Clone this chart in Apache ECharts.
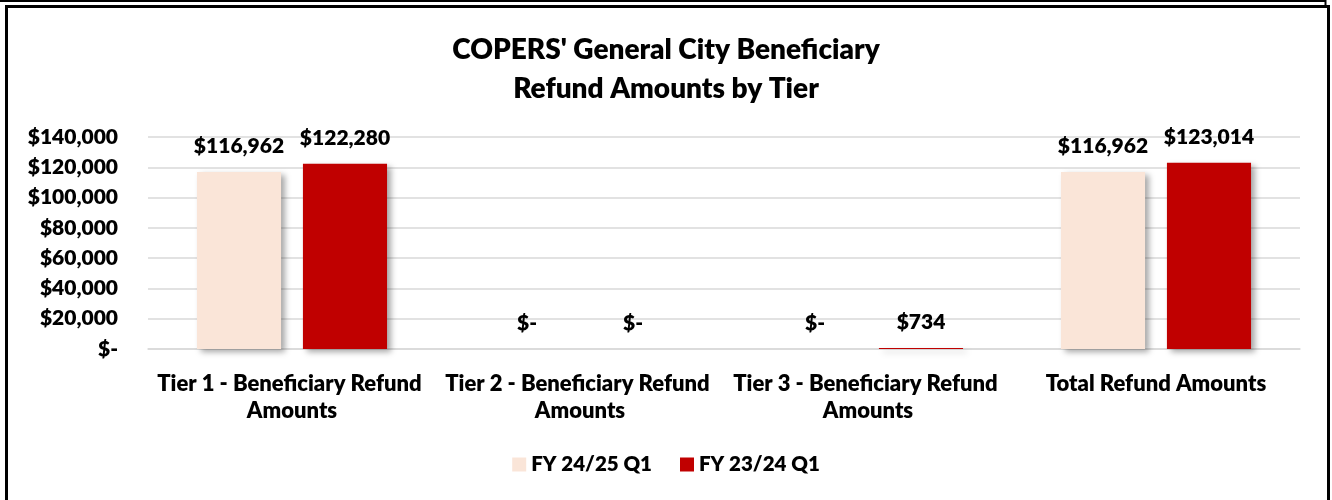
<!DOCTYPE html>
<html>
<head>
<meta charset="utf-8">
<script src="https://cdn.jsdelivr.net/npm/echarts@6/dist/echarts.min.js"></script>
<style>
html,body{margin:0;padding:0;background:#fff;}
#chart{width:1332px;height:500px;}
</style>
</head>
<body>
<div id="chart"></div>
<script>
const categories = [
  "Tier 1 - Beneficiary Refund Amounts",
  "Tier 2 - Beneficiary Refund Amounts",
  "Tier 3 - Beneficiary Refund Amounts",
  "Total Refund Amounts"
];
const seriesNames = ["FY 24/25 Q1", "FY 23/24 Q1"];
const fy2425 = [116962, 0, 0, 116962];
const fy2324 = [122280, 0, 734, 123014];
const yTicks = [0, 20000, 40000, 60000, 80000, 100000, 120000, 140000];

const FONT = 'Lato';
const W = 800;
const money = v => v === 0 ? '$-' : '$' + Number(v).toLocaleString('en-US');

const chart = echarts.init(document.getElementById('chart'), null, {renderer: 'canvas'});
const labelCfg = {
  show: true, position: 'top', distance: 15,
  fontFamily: FONT, fontWeight: W, fontSize: 21, color: '#000',
  formatter: p => money(p.value)
};
const shadow = {shadowBlur: 6, shadowOffsetX: 4, shadowOffsetY: 3, shadowColor: 'rgba(0,0,0,0.35)'};
chart.setOption({
  animation: false,
  backgroundColor: '#fff',
  title: {
    text: "COPERS' General City Beneficiary\nRefund Amounts by Tier",
    left: 'center', top: 25,
    textStyle: {fontFamily: FONT, fontWeight: W, fontSize: 28, lineHeight: 39, color: '#000'}
  },
  legend: {
    bottom: 20, left: 'center',
    itemWidth: 14, itemHeight: 14, itemGap: 28,
    icon: 'rect',
    textStyle: {fontFamily: FONT, fontWeight: W, fontSize: 20.5, color: '#000'},
    data: seriesNames
  },
  grid: {left: 148, right: 32, top: 137, bottom: 151, containLabel: false},
  xAxis: {
    type: 'category', data: categories,
    axisLine: {show: true, lineStyle: {color: '#d9d9d9', width: 1.5}},
    axisTick: {show: false},
    axisLabel: {
      margin: 21, interval: 0,
      fontFamily: FONT, fontWeight: W, fontSize: 22, lineHeight: 27, color: '#000',
      width: 285, overflow: 'break'
    }
  },
  yAxis: {
    type: 'value', min: yTicks[0], max: yTicks[yTicks.length - 1], interval: 20000,
    axisLine: {show: false}, axisTick: {show: false},
    splitLine: {lineStyle: {color: '#d9d9d9', width: 1.5}},
    axisLabel: {
      margin: 30, fontFamily: FONT, fontWeight: W, fontSize: 21, color: '#000',
      formatter: v => money(v)
    }
  },
  series: [
    {name: seriesNames[0], type: 'bar', data: fy2425, barGap: '26%', barCategoryGap: '34%',
     itemStyle: Object.assign({color: '#FAE5D8'}, shadow), label: labelCfg},
    {name: seriesNames[1], type: 'bar', data: fy2324,
     itemStyle: Object.assign({color: '#C00000'}, shadow), label: labelCfg}
  ],
  graphic: [
    {type: 'rect', silent: true, z: 100,
     shape: {x: 6.5, y: 6.5, width: 1322, height: 510},
     style: {fill: 'none', stroke: '#000', lineWidth: 3}},
    {type: 'line', silent: true, z: 100,
     shape: {x1: 0, y1: 1, x2: 1326, y2: 1},
     style: {stroke: '#000', lineWidth: 2}},
    {type: 'line', silent: true, z: 100,
     shape: {x1: 1325.5, y1: 0, x2: 1325.5, y2: 6},
     style: {stroke: '#000', lineWidth: 2}}
  ]
});
</script>
</body>
</html>
